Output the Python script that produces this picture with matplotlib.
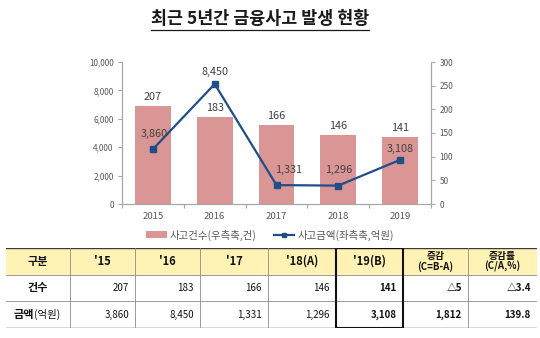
#!/usr/bin/env python3
import matplotlib
matplotlib.use("Agg")
import matplotlib.pyplot as plt
import numpy as np
from matplotlib.lines import Line2D
from matplotlib.patches import Patch, Rectangle
from matplotlib.ticker import FuncFormatter

plt.rcParams['font.family'] = ['Noto Sans CJK KR', 'DejaVu Sans']

TITLE = "최근 5년간 금융사고 발생 현황"
YEARS = ["2015", "2016", "2017", "2018", "2019"]
CASES = [207, 183, 166, 146, 141]            # 사고건수 (right axis)
AMOUNT = [3860, 8450, 1331, 1296, 3108]      # 사고금액 (left axis, 억원)
LEG_CASES = "사고건수(우측축,건)"
LEG_AMOUNT = "사고금액(좌측축,억원)"

TAB_HEAD = ["구분", "'15", "'16", "'17", "'18(A)", "'19(B)",
            "증감\n(C=B-A)", "증감률\n(C/A,%)"]
TAB_ROW_NAMES = ["건수", "금액"]
TAB_ROW_UNITS = ["", "(억원)"]
TAB_CASES = ["207", "183", "166", "146", "141", "△5", "△3.4"]
TAB_AMOUNT = ["3,860", "8,450", "1,331", "1,296", "3,108", "1,812", "139.8"]

BAR_C = '#D99694'
LINE_C = '#1F4E89'
AXIS_C = '#A6A6A6'
TICK_TXT = '#595959'
LBL_C = '#404040'
HEAD_FILL = '#FFF2B5'

# label offsets (points) for the amount labels, as placed in the original
AMT_OFFS = [(1, 11), (0, 9), (9, 11), (0, 11.5), (0, 8)]

W, H = 540, 338
fig = plt.figure(figsize=(W / 100, H / 100), dpi=100)

# ---- chart ----
ax = fig.add_axes([122 / W, (H - 204) / H, (431 - 122) / W, 142 / H])
x = np.arange(len(YEARS))
bars = ax.bar(x, CASES, width=0.58, color=BAR_C, zorder=2)
ax.set_xlim(-0.5, len(YEARS) - 0.5)

ax2 = ax.twinx()
ax2.plot(x, AMOUNT, color=LINE_C, lw=1.6, marker='s', ms=4.2, zorder=3)

ax.yaxis.tick_right()
ax2.yaxis.tick_left()
ax.set_ylim(0, 300)
ax.set_yticks(range(0, 301, 50))
ax2.set_ylim(0, 10000)
ax2.set_yticks(range(0, 10001, 2000))
ax2.yaxis.set_major_formatter(FuncFormatter(lambda v, _: f"{int(v):,}"))

for a in (ax, ax2):
    a.spines['top'].set_visible(False)
    for s in ('left', 'right', 'bottom'):
        a.spines[s].set_color(AXIS_C)
        a.spines[s].set_linewidth(0.8)
    a.tick_params(axis='y', labelsize=5.9, colors=AXIS_C, labelcolor=TICK_TXT,
                  length=3, width=0.8, pad=3)

ax.set_xticks(x)
ax.set_xticklabels(YEARS)
ax.set_xticks(np.arange(-0.5, len(YEARS)), minor=True)
ax.tick_params(axis='x', which='major', length=0, labelsize=6.9,
               labelcolor=TICK_TXT, pad=6)
ax.tick_params(axis='x', which='minor', length=3, width=0.8, colors=AXIS_C)

for xi, c in zip(x, CASES):
    ax.annotate(f"{c}", (xi, c), xytext=(0, 3), textcoords='offset points',
                ha='center', va='bottom', fontsize=7.8, color=LBL_C)
for xi, v, off in zip(x, AMOUNT, AMT_OFFS):
    ax2.annotate(f"{v:,}", (xi, v), xytext=off, textcoords='offset points',
                 ha='center', va='center', fontsize=7.8, color=LBL_C)

handles = [Patch(facecolor=BAR_C, edgecolor='none'),
           Line2D([], [], color=LINE_C, lw=1.6, marker='s', ms=3.5)]
fig.legend(handles, [LEG_CASES, LEG_AMOUNT], loc='center',
           bbox_to_anchor=(270 / W, 1 - 235 / H), ncol=2, frameon=False,
           fontsize=7.5, handlelength=2.0, handleheight=0.6,
           handletextpad=0.3, columnspacing=1.6, labelcolor=TICK_TXT)

# ---- title with underline ----
t = fig.text(260 / W, 1 - 19 / H, TITLE, ha='center', va='center',
             fontsize=12.5, fontweight='bold', color='#1a1a1a')
fig.canvas.draw()
bb = t.get_window_extent(fig.canvas.get_renderer()).transformed(
    fig.transFigure.inverted())
fig.add_artist(Line2D([bb.x0, bb.x1], [bb.y0 - 1.5 / H, bb.y0 - 1.5 / H],
                      transform=fig.transFigure, color='#1a1a1a', lw=0.9))

# ---- table ----
col_w = [64, 65, 65, 68, 68, 67, 65, 69]
edges = np.concatenate([[0], np.cumsum(col_w)])
tab = fig.add_axes([6 / W, (H - 328) / H, edges[-1] / W, 80 / H])
tab.set_xlim(0, edges[-1])
tab.set_ylim(3, 0)
tab.axis('off')

tab.add_patch(Rectangle((0, 0), edges[-1], 1, facecolor=HEAD_FILL,
                        edgecolor='none'))
for yy in (1, 2):
    tab.plot([0, edges[-1]], [yy, yy], color='#8C8C8C', lw=0.6)
for yy in (0, 3):
    tab.plot([0, edges[-1]], [yy, yy], color='#3A3A3A', lw=1.0)
for e in edges[1:-1]:
    tab.plot([e, e], [0, 3], color='#8C8C8C', lw=0.6)
tab.add_patch(Rectangle((edges[5], 0), edges[6] - edges[5], 3,
                        facecolor='none', edgecolor='#111111', lw=1.5,
                        zorder=5))

for i, h in enumerate(TAB_HEAD):
    cx = (edges[i] + edges[i + 1]) / 2
    parts = h.split("\n")
    if len(parts) == 1:
        tab.text(cx, 0.5, h, ha='center', va='center', fontsize=8,
                 fontweight='bold', color='#111111')
    else:
        for k, p in enumerate(parts):
            tab.text(cx, 0.3 + 0.4 * k, p, ha='center', va='center',
                     fontsize=7, fontweight='bold', color='#111111')

for r, (name, unit, vals) in enumerate(zip(TAB_ROW_NAMES, TAB_ROW_UNITS,
                                           [TAB_CASES, TAB_AMOUNT])):
    y = r + 1.5
    cx = (edges[0] + edges[1]) / 2
    if unit:
        tn = tab.text(cx - 14, y, name, ha='center', va='center', fontsize=8,
                      fontweight='bold', color='#111111')
        tab.annotate(unit, (1, 0.5), xycoords=tn, ha='left', va='center',
                     fontsize=7.5, color='#111111')
    else:
        tab.text(cx, y, name, ha='center', va='center', fontsize=8,
                 fontweight='bold', color='#111111')
    for j, v in enumerate(vals):
        col = j + 1
        bold = col >= 5
        tab.text(edges[col + 1] - 6, y, v, ha='right', va='center',
                 fontsize=7, fontweight='bold' if bold else 'normal',
                 color='#111111')

fig.savefig('out.png', dpi=100)
